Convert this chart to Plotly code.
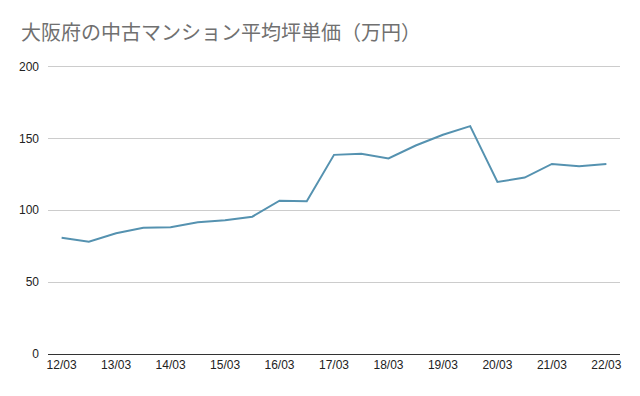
import plotly.graph_objects as go

periods = ["12/03", "12/09", "13/03", "13/09", "14/03", "14/09", "15/03", "15/09",
           "16/03", "16/09", "17/03", "17/09", "18/03", "18/09", "19/03", "19/09",
           "20/03", "20/09", "21/03", "21/09", "22/03"]
price = [80.8, 78.1, 84.0, 87.8, 88.2, 91.7, 93.0, 95.5, 106.6, 106.2,
         138.5, 139.2, 136.0, 145.0, 152.5, 158.5, 119.7, 122.7, 132.2, 130.6, 132.2]
tick_labels = periods[::2]
y_ticks = [0, 50, 100, 150, 200]

fig = go.Figure(go.Scatter(
    x=periods, y=price, mode="lines",
    line=dict(color="#5592b0", width=2),
    hoverinfo="x+y",
    cliponaxis=False,
))

fig.update_layout(
    width=640, height=396,
    margin=dict(l=48, r=20, t=65, b=42, autoexpand=False),
    paper_bgcolor="white", plot_bgcolor="white",
    title=dict(text="大阪府の中古マンション平均坪単価（万円）",
               x=21/640, xref="container", xanchor="left",
               y=1-33/396, yref="container", yanchor="middle",
               font=dict(family="Noto Sans CJK JP", size=20, color="#707070"),
               automargin=False),
    showlegend=False,
    font=dict(family="Liberation Sans, Arial", size=12, color="#222222"),
)
fig.update_xaxes(
    type="category", range=[-0.5, 20.5], automargin=False,
    tickmode="array", tickvals=tick_labels, ticktext=tick_labels,
    showgrid=False, showline=True, linecolor="#333333", linewidth=1,
    ticks="", tickfont=dict(size=12, color="#222222"),
)
fig.update_yaxes(
    range=[0, 201], tickvals=y_ticks, showgrid=True, gridcolor="#cccccc", gridwidth=1,
    zeroline=False, showline=False, ticks="", ticklabelstandoff=8, automargin=False,
    tickfont=dict(size=12, color="#222222"),
)

fig.write_html("out.html", config={"displayModeBar": False},
               post_script="document.body.style.margin='0';")
